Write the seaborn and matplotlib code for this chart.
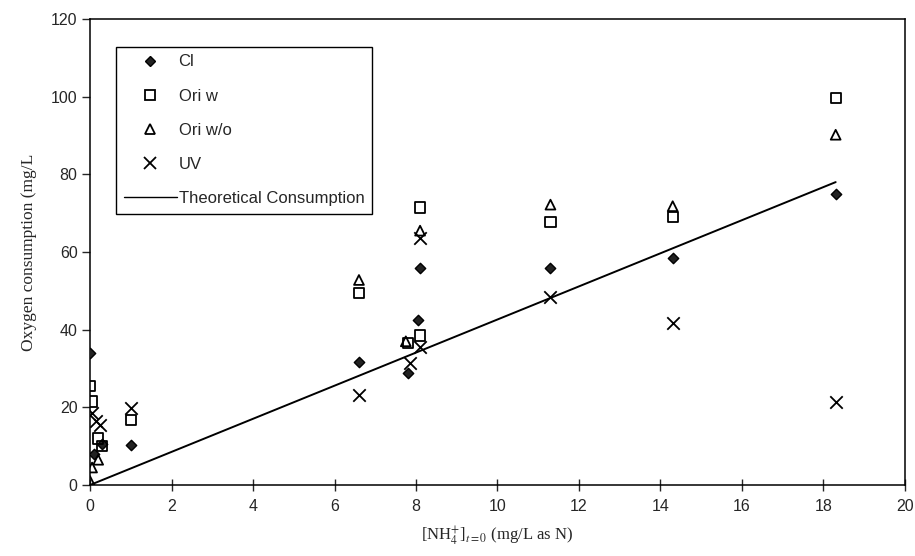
import matplotlib
matplotlib.use("Agg")
import matplotlib.pyplot as plt
from matplotlib.lines import Line2D
import seaborn as sns
import pandas as pd

# ---- data ----
cl_x = [0.0, 0.1, 0.3, 1.0, 6.6, 7.8, 8.05, 8.1, 11.3, 14.3, 18.3]
cl_y = [34.0, 8.0, 10.5, 10.2, 31.7, 28.8, 42.5, 56.0, 55.8, 58.5, 75.0]

oriw_x = [0.0, 0.05, 0.2, 0.3, 1.0, 6.6, 7.8, 8.1, 8.1, 11.3, 14.3, 18.3]
oriw_y = [25.5, 21.5, 12.0, 10.0, 16.8, 49.5, 36.5, 38.5, 71.5, 67.8, 69.0, 99.7]

oriwo_x = [0.0, 0.05, 0.2, 6.6, 7.75, 8.1, 11.3, 14.3, 18.3]
oriwo_y = [1.0, 4.5, 6.5, 52.8, 37.0, 65.5, 72.2, 71.8, 90.2]

uv_x = [0.05, 0.25, 0.15, 1.0, 6.6, 7.85, 8.1, 8.1, 11.3, 14.3, 18.3]
uv_y = [18.5, 15.5, 16.5, 19.8, 23.2, 31.4, 35.5, 63.5, 48.5, 41.7, 21.4]

theory_x = [0.0, 18.3]
theory_y = [0.0, 78.0]

x_ticks = [0, 2, 4, 6, 8, 10, 12, 14, 16, 18, 20]
y_ticks = [0, 20, 40, 60, 80, 100, 120]

labels = ["Cl", "Ori w", "Ori w/o", "UV", "Theoretical Consumption"]

# ---- style ----
sns.set_style("ticks")
plt.rcParams["font.family"] = ["Liberation Sans", "DejaVu Sans"]
plt.rcParams["mathtext.fontset"] = "stix"

fig = plt.figure(figsize=(9.15, 5.56), dpi=100)
ax = fig.add_axes([0.0984, 0.1277, 0.8906, 0.8381])

sns.lineplot(x=theory_x, y=theory_y, ax=ax, color="black", lw=1.4, zorder=2)

df_cl = pd.DataFrame({"x": cl_x, "y": cl_y})
df_w = pd.DataFrame({"x": oriw_x, "y": oriw_y})
df_wo = pd.DataFrame({"x": oriwo_x, "y": oriwo_y})
df_uv = pd.DataFrame({"x": uv_x, "y": uv_y})

sns.scatterplot(data=df_cl, x="x", y="y", ax=ax, marker="D", s=28,
                color="#222222", edgecolor="black", linewidth=1.0, zorder=3)
sns.scatterplot(data=df_w, x="x", y="y", ax=ax, marker="s", s=55,
                facecolor="none", edgecolor="black", linewidth=1.3, zorder=3)
sns.scatterplot(data=df_wo, x="x", y="y", ax=ax, marker="^", s=50,
                facecolor="none", edgecolor="black", linewidth=1.3, zorder=3)
sns.scatterplot(data=df_uv, x="x", y="y", ax=ax, marker="x", s=80,
                color="black", linewidth=1.3, zorder=3)

ax.set_xlim(0, 20)
ax.set_ylim(0, 120)
ax.set_xticks(x_ticks)
ax.set_yticks(y_ticks)
ax.tick_params(axis="x", direction="inout", length=8, width=1, labelsize=11.5, pad=6)
ax.tick_params(axis="y", direction="out", length=6, width=1, labelsize=11.5, pad=3)
for s in ax.spines.values():
    s.set_color("black")
    s.set_linewidth(1.1)

ax.set_xlabel("[NH$_4^{+}$]$_{t=0}$ (mg/L as N)", fontsize=12,
              family=["Liberation Serif", "DejaVu Serif"], labelpad=8)
ax.set_ylabel("Oxygen consumption (mg/L", fontsize=12.5,
              family=["Liberation Serif", "DejaVu Serif"], labelpad=10)

handles = [
    Line2D([], [], ls="none", marker="D", ms=5, color="#222222", mec="black"),
    Line2D([], [], ls="none", marker="s", ms=7, mfc="none", mec="black", mew=1.3),
    Line2D([], [], ls="none", marker="^", ms=7, mfc="none", mec="black", mew=1.3),
    Line2D([], [], ls="none", marker="x", ms=8, color="black", mew=1.3),
    Line2D([], [], color="black", lw=1.0),
]
leg = ax.legend(handles, labels, loc="upper left",
                bbox_to_anchor=(0.032, 0.94), fontsize=12,
                labelspacing=1.15, handlelength=3.2, handletextpad=0.1,
                borderpad=0.45, fancybox=False, framealpha=1,
                edgecolor="black", borderaxespad=0)
leg.get_frame().set_linewidth(1.0)

fig.savefig("out.png", dpi=100)
